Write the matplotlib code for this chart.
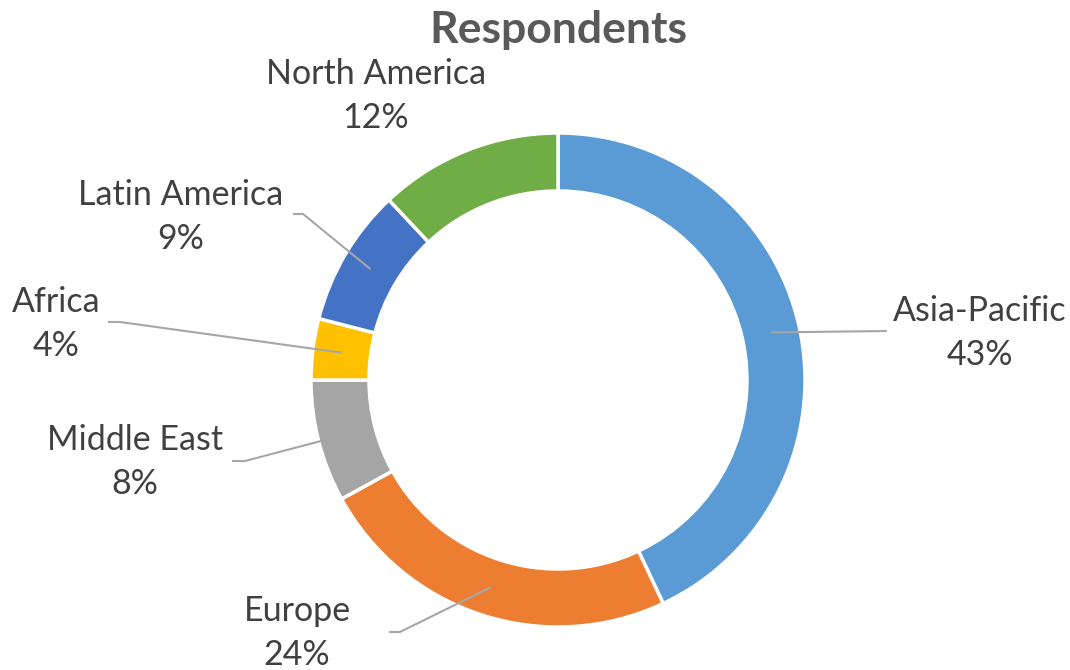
import numpy as np
import matplotlib.pyplot as plt

# share of respondents by region
regions = ['Asia-Pacific', 'Europe', 'Middle East', 'Africa', 'Latin America', 'North America']
shares = [43, 24, 8, 4, 9, 12]
colors = ['#5B9BD5', '#ED7D31', '#A5A5A5', '#FFC000', '#4472C4', '#70AD47']

# label centres and leader elbows, in pixels from the top-left corner
label_xy = [(980, 333), (297, 633), (135, 462), (56, 324), (181, 217), (376, 96)]
elbow_xy = [(887, 331), (400, 632), (245, 461), (120, 322), (303, 214), None]
end_xy = [None, (389, 632), (232, 461), (108, 322), (293, 214), None]

W, H = 1070, 670
cx, cy = 558, 380
r_out, r_in = 247, 189

plt.rcParams['font.family'] = ['Lato', 'DejaVu Sans']

fig = plt.figure(figsize=(W / 100, H / 100), dpi=100)
ax = fig.add_axes([0, 0, 1, 1])

wedges, _ = ax.pie(shares, colors=colors, startangle=90, counterclock=False,
                   center=(cx, H - cy), radius=r_out, frame=True,
                   wedgeprops=dict(width=r_out - r_in, edgecolor='white', linewidth=2.5))
ax.set_xlim(0, W)
ax.set_ylim(0, H)
ax.axis('off')

r_mid = (r_out + r_in) / 2
for w, name, pct, lab, elb, end in zip(wedges, regions, shares, label_xy, elbow_xy, end_xy):
    if elb is not None:
        a = np.deg2rad((w.theta1 + w.theta2) / 2)
        xs = [cx + r_mid * np.cos(a), elb[0]]
        ys = [H - cy + r_mid * np.sin(a), H - elb[1]]
        if end is not None:
            xs.append(end[0])
            ys.append(H - end[1])
        ax.plot(xs, ys, color='#A6A6A6', lw=1.5, solid_capstyle='butt')
    ax.text(lab[0], H - lab[1], f'{name}\n{pct}%', ha='center', va='center',
            fontsize=24.5, color='#404040', linespacing=1.48)

ax.text(cx, H - 30, 'Respondents', ha='center', va='center',
        fontsize=32, fontweight='bold', color='#595959')

fig.savefig('out.png', dpi=100)
